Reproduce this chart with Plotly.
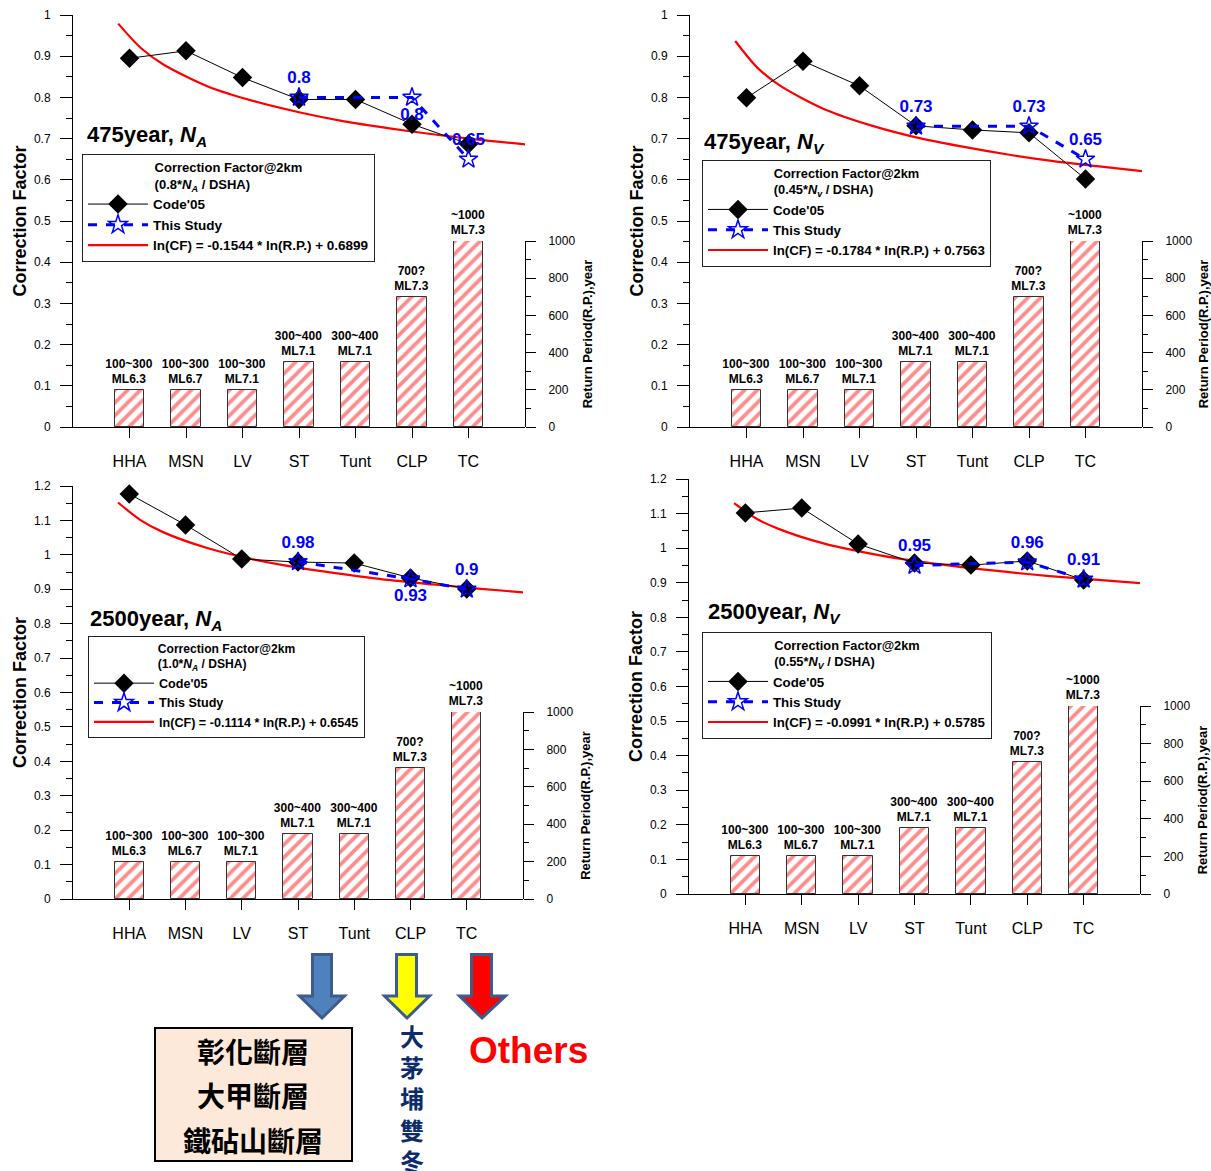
import plotly.graph_objects as go

W, H = 1211, 1171

categories = ["HHA", "MSN", "LV", "ST", "Tunt", "CLP", "TC"]
return_period = [200, 200, 200, 350, 350, 700, 1000]
bar_labels = ["100~300<br>ML6.3", "100~300<br>ML6.7", "100~300<br>ML7.1",
              "300~400<br>ML7.1", "300~400<br>ML7.1", "700?<br>ML7.3", "~1000<br>ML7.3"]

code05_475_NA = [0.895, 0.913, 0.848, 0.795, 0.795, 0.735, 0.687]
code05_475_NV = [0.799, 0.888, 0.828, 0.731, 0.721, 0.714, 0.602]
code05_2500_NA = [1.177, 1.087, 0.988, 0.979, 0.976, 0.933, 0.901]
code05_2500_NV = [1.102, 1.116, 1.012, 0.957, 0.951, 0.963, 0.908]

study_cats = ["ST", "CLP", "TC"]
study_475_NA = [0.8, 0.8, 0.65]
study_475_NV = [0.73, 0.73, 0.65]
study_2500_NA = [0.98, 0.93, 0.9]
study_2500_NV = [0.95, 0.96, 0.91]

curve_rp = [100, 150, 200, 300, 400, 500, 600, 700, 800, 900, 1000]
curve_475_NA = [0.979, 0.920, 0.880, 0.826, 0.791, 0.764, 0.742, 0.725, 0.710, 0.697, 0.686]
curve_475_NV = [0.937, 0.871, 0.828, 0.770, 0.732, 0.703, 0.681, 0.662, 0.646, 0.633, 0.621]
curve_2500_NA = [1.152, 1.101, 1.066, 1.019, 0.987, 0.963, 0.944, 0.927, 0.914, 0.902, 0.891]
curve_2500_NV = [1.130, 1.085, 1.055, 1.013, 0.985, 0.963, 0.946, 0.932, 0.919, 0.909, 0.899]

panel_titles = ["475year, <i>N<sub>A</sub></i>", "475year, <i>N<sub>V</sub></i>",
                "2500year, <i>N<sub>A</sub></i>", "2500year, <i>N<sub>V</sub></i>"]
legend_titles = ["(0.8*<i>N<sub>A</sub></i> / DSHA)", "(0.45*<i>N<sub>v</sub></i> / DSHA)",
                 "(1.0*<i>N<sub>A</sub></i> / DSHA)", "(0.55*<i>N<sub>V</sub></i> / DSHA)"]
fit_labels = ["ln(CF) = -0.1544 * ln(R.P.) + 0.6899", "ln(CF) = -0.1784 * ln(R.P.) + 0.7563",
              "ln(CF) = -0.1114 * ln(R.P.) + 0.6545", "ln(CF) = -0.0991 * ln(R.P.) + 0.5785"]
study_text_pos = [["top center", "bottom center", "top center"],
                  ["top center", "top center", "top center"],
                  ["top center", "bottom center", "top center"],
                  ["top center", "top center", "top center"]]

code05 = [code05_475_NA, code05_475_NV, code05_2500_NA, code05_2500_NV]
study = [study_475_NA, study_475_NV, study_2500_NA, study_2500_NV]
curves = [curve_475_NA, curve_475_NV, curve_2500_NA, curve_2500_NV]


def px(x):
    return x / W


def py(y):
    return 1 - y / H


# panel geometry (pixels)
panels = [
    dict(x0=73, x1=525, yt=15, yb=427, rt=241, ymax=1.0, title=(85, 136), leg=(82, 154), lfs=13.5),
    dict(x0=690, x1=1142, yt=15, yb=427, rt=241, ymax=1.0, title=(702, 143), leg=(702, 160), lfs=13.3),
    dict(x0=73, x1=523, yt=486, yb=899, rt=712, ymax=1.2, title=(88, 620), leg=(88, 636), lfs=12.6),
    dict(x0=689, x1=1140, yt=479, yb=894, rt=706, ymax=1.2, title=(706, 613), leg=(702, 632), lfs=13.3),
]

FONT = "Liberation Sans, Arial, sans-serif"
fig = go.Figure()
cat_pos = {c: i + 1 for i, c in enumerate(categories)}
layout = {}
annotations = []
shapes = []

for k, p in enumerate(panels):
    xa = "x" if k == 0 else f"x{k+1}"
    ya_l = "y" if k == 0 else f"y{2*k+1}"
    ya_r = f"y{2*k+2}"
    xname = "xaxis" if k == 0 else f"xaxis{k+1}"
    yl_name = "yaxis" if k == 0 else f"yaxis{2*k+1}"
    yr_name = f"yaxis{2*k+2}"
    leg = "legend" if k == 0 else f"legend{k+1}"

    xpos = [cat_pos[c] for c in categories]
    # bars (return period)
    fig.add_trace(go.Bar(
        x=xpos, y=return_period, xaxis=xa, yaxis=ya_r, width=0.52,
        marker=dict(color="white", line=dict(color="#333333", width=1),
                    pattern=dict(shape="/", fgcolor="#FF1A1A", bgcolor="white", size=9, solidity=0.42)),
        text=[f"<b>{t}</b>" for t in bar_labels], textposition="outside", constraintext="none",
        textfont=dict(size=12, color="black", family=FONT), cliponaxis=False,
        showlegend=False, hoverinfo="skip"))
    # fitted curve
    fig.add_trace(go.Scatter(
        x=[r / 125 for r in curve_rp], y=curves[k], xaxis=xa, yaxis=ya_l, mode="lines",
        line=dict(color="#FF0000", width=2.2, shape="spline", smoothing=0.8), name=f"<b>{fit_labels[k]}</b>",
        legend=leg, legendrank=3, cliponaxis=False))
    # Code'05
    fig.add_trace(go.Scatter(
        x=xpos, y=code05[k], xaxis=xa, yaxis=ya_l, mode="lines+markers",
        line=dict(color="black", width=1),
        marker=dict(symbol="diamond", size=15, color="black"),
        name="<b>Code'05</b>", legend=leg, legendrank=1, cliponaxis=False))
    # This study
    fig.add_trace(go.Scatter(
        x=[cat_pos[c] for c in study_cats], y=study[k], xaxis=xa, yaxis=ya_l,
        mode="lines+markers+text", line=dict(color="#0000FF", width=3, dash="dash"),
        marker=dict(symbol="star-open", size=14, color="#0000FF", line=dict(width=1.5, color="#0000FF")),
        text=[f"<b>{v:g}</b>" for v in study[k]], textposition=study_text_pos[k],
        textfont=dict(size=17, color="#0000FF", family=FONT),
        name="<b>This Study</b>", legend=leg, legendrank=2, cliponaxis=False))

    layout[xname] = dict(
        domain=[px(p["x0"]), px(p["x1"])], anchor=ya_l, range=[0, 8], automargin=False,
        tickvals=list(range(1, 8)), ticktext=categories, showline=True, linecolor="black",
        linewidth=1, ticks="outside", ticklen=10, tickcolor="black", showgrid=False,
        zeroline=False, tickfont=dict(size=16, color="black", family=FONT), ticklabelstandoff=10)
    layout[yl_name] = dict(
        domain=[py(p["yb"]), py(p["yt"])], anchor=xa, range=[0, p["ymax"]], dtick=0.1,
        automargin=False,
        showline=True, linecolor="black", linewidth=1, ticks="outside", ticklen=12,
        tickcolor="black", showgrid=False, zeroline=False,
        minor=dict(dtick=0.05, ticks="outside", ticklen=6, tickcolor="black"),
        tickfont=dict(size=12, color="black", family=FONT), ticklabelstandoff=7,
        title=dict(text="<b>Correction Factor</b>", font=dict(size=18, color="black", family=FONT), standoff=2))
    layout[yr_name] = dict(
        domain=[py(p["yb"]), py(p["rt"])], anchor=xa, side="right", range=[0, 1000], dtick=200,
        automargin=False,
        showline=True, linecolor="black", linewidth=1, ticks="outside", ticklen=10,
        tickcolor="black", showgrid=False, zeroline=False,
        minor=dict(dtick=100, ticks="outside", ticklen=5, tickcolor="black"),
        tickfont=dict(size=12, color="black", family=FONT), ticklabelstandoff=10,
        title=dict(text="<b>Return Period(R.P.),year</b>", font=dict(size=13, color="black", family=FONT), standoff=8))
    layout[leg] = dict(
        x=px(p["leg"][0]), y=py(p["leg"][1]), xanchor="left", yanchor="top",
        bgcolor="white", bordercolor="#222222", borderwidth=1, itemwidth=60,
        font=dict(size=p["lfs"], color="black", family=FONT), tracegroupgap=0,
        title=dict(text="<b>Correction Factor@2km<br>" + legend_titles[k] + "</b>",
                   side="top center", font=dict(size=p["lfs"] - 0.5, color="black", family=FONT)))
    annotations.append(dict(
        x=px(p["title"][0]), y=py(p["title"][1]), xref="paper", yref="paper",
        text=f"<b>{panel_titles[k]}</b>", showarrow=False, xanchor="left", yanchor="middle",
        font=dict(size=22, color="black", family=FONT)))


# arrows below the charts
def arrow(cx, sx0, sx1, hx0, hx1, top, hy, tip, fill):
    pts = [(sx0, top), (sx1, top), (sx1, hy), (hx1, hy), (cx, tip), (hx0, hy), (sx0, hy)]
    path = "M " + " L ".join(f"{px(a):.5f},{py(b):.5f}" for a, b in pts) + " Z"
    return dict(type="path", xref="paper", yref="paper", path=path, fillcolor=fill,
                line=dict(color="#3B5C8C", width=3))


shapes.append(arrow(322, 312.5, 331.5, 299.5, 344.5, 954.5, 996, 1018, "#4F81BD"))
shapes.append(arrow(407, 396.5, 416.5, 384.5, 429.5, 954.5, 996, 1018, "#FFFF00"))
shapes.append(arrow(482, 471.5, 491.5, 459.5, 505.5, 954.5, 996, 1018, "#FF0000"))
shapes.append(dict(type="rect", xref="paper", yref="paper", x0=px(155), x1=px(352),
                   y0=py(1161), y1=py(1028), fillcolor="#FDE9D9", line=dict(color="black", width=2)))

CJK = "Noto Sans CJK TC"
for txt, yy in [("彰化斷層", 1051), ("大甲斷層", 1095), ("鐵砧山斷層", 1140)]:
    annotations.append(dict(x=px(253), y=py(yy), xref="paper", yref="paper", text=f"<b>{txt}</b>",
                            showarrow=False, xanchor="center", yanchor="middle",
                            font=dict(size=28, color="black", family=CJK)))
annotations.append(dict(x=px(412), y=py(1016), xref="paper", yref="paper",
                        text="<b>大<br>茅<br>埔<br>雙<br>冬</b>",
                        showarrow=False, xanchor="center", yanchor="top",
                        font=dict(size=24, color="#0D2C6C", family=CJK)))
annotations.append(dict(x=px(467), y=py(1050), xref="paper", yref="paper", text="<b>Others</b>",
                        showarrow=False, xanchor="left", yanchor="middle",
                        font=dict(size=37, color="#FF0000", family=FONT)))

fig.update_layout(
    width=W, height=H, margin=dict(l=0, r=0, t=0, b=0),
    paper_bgcolor="white", plot_bgcolor="rgba(0,0,0,0)",
    font=dict(family=FONT, color="black"), bargap=0,
    annotations=annotations, shapes=shapes, **layout)

fig.write_html("out.html")
